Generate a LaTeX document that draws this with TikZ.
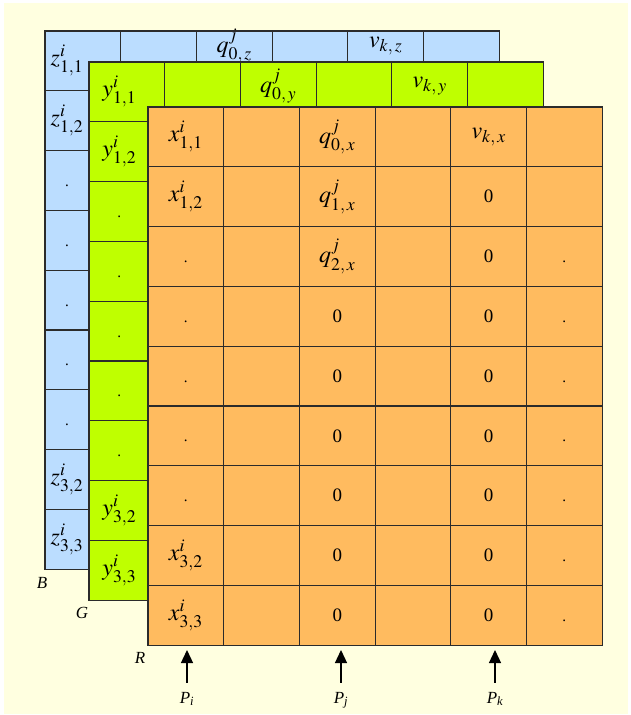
\documentclass[tikz,border=0pt]{standalone}
\usepackage{mathptmx}
\usepackage[no-math]{fontspec}
\setmainfont{Liberation Serif}
\usetikzlibrary{arrows.meta}
\definecolor{bgyellow}{HTML}{FFFFE0}
\definecolor{layblue}{HTML}{BBDDFF}
\definecolor{laygreen}{HTML}{BFFF00}
\definecolor{layorange}{HTML}{FFBB5F}
\definecolor{gridline}{HTML}{2B2B2B}

\tikzset{
  cellgrid/.style={draw=gridline, line width=1.2pt},
  lbl/.style={font=\fontsize{24}{28}\selectfont, inner sep=0pt},
  zero/.style={font=\fontsize{19}{22}\selectfont, inner sep=0pt},
  dotc/.style={font=\fontsize{15}{18}\selectfont, inner sep=0pt, anchor=base, yshift=-6pt},
  tag/.style={font=\fontsize{17}{20}\selectfont\itshape, inner sep=0pt},
  ptr/.style={-{Triangle[length=13pt,width=12pt]}, line width=1.3pt, black},
  cellunits/.style={x=75.7pt, y=-59.8pt}
}

% one colour plane: 6 columns x 9 rows
\newcommand{\layergrid}[1]{%
  \draw[cellgrid, fill=#1] (0,0) rectangle (6,9);
  \foreach \i in {1,...,5} \draw[cellgrid] (\i,0) -- (\i,9);
  \foreach \j in {1,...,8} \draw[cellgrid] (0,\j) -- (6,\j);
}

\begin{document}
\begin{tikzpicture}[x=1pt, y=-1pt]
  \useasboundingbox (0,0) rectangle (630,715);
  \fill[bgyellow] (4,3) rectangle (628,714);

  % B plane
  \begin{scope}[shift={(45pt,-31pt)}, cellunits]
    \layergrid{layblue}
    \node[lbl] (z11) at (0.29,0.5) {$z^i_{1,1}$};
    \node[lbl] (z12) at (0.29,1.5) {$z^i_{1,2}$};
    \foreach \r in {3,...,7}
      \node[dotc] (zdot\r) at (0.29,\r-0.5) {.};
    \node[lbl] (z32) at (0.29,7.5) {$z^i_{3,2}$};
    \node[lbl] (z33) at (0.29,8.5) {$z^i_{3,3}$};
    \node[lbl] (q0z) at (2.5,0.25) {$q^j_{0,\,z}$};
    \node[lbl] (vkz) at (4.5,0.25) {$v_{k,\,z}$};
  \end{scope}

  % G plane
  \begin{scope}[shift={(89pt,-62pt)}, cellunits]
    \layergrid{laygreen}
    \node[lbl] (y11) at (0.4,0.5) {$y^i_{1,1}$};
    \node[lbl] (y12) at (0.4,1.5) {$y^i_{1,2}$};
    \foreach \r in {3,...,7}
      \node[dotc] (ydot\r) at (0.4,\r-0.5) {.};
    \node[lbl] (y32) at (0.4,7.5) {$y^i_{3,2}$};
    \node[lbl] (y33) at (0.4,8.5) {$y^i_{3,3}$};
    \node[lbl] (q0y) at (2.5,0.4) {$q^j_{0,\,y}$};
    \node[lbl] (vky) at (4.5,0.4) {$v_{k,\,y}$};
  \end{scope}

  % R plane
  \begin{scope}[shift={(148pt,-107pt)}, cellunits]
    \layergrid{layorange}
    \node[lbl] (x11) at (0.5,0.5) {$x^i_{1,1}$};
    \node[lbl] (x12) at (0.5,1.5) {$x^i_{1,2}$};
    \foreach \r in {3,...,7}
      \node[dotc] (xdot\r) at (0.5,\r-0.5) {.};
    \node[lbl] (x32) at (0.5,7.5) {$x^i_{3,2}$};
    \node[lbl] (x33) at (0.5,8.5) {$x^i_{3,3}$};
    \node[lbl] (q0x) at (2.5,0.5) {$q^j_{0,\,x}$};
    \node[lbl] (q1x) at (2.5,1.5) {$q^j_{1,\,x}$};
    \node[lbl] (q2x) at (2.5,2.5) {$q^j_{2,\,x}$};
    \foreach \r in {4,...,9}
      \node[zero] (qzero\r) at (2.5,\r-0.5) {0};
    \node[lbl] (vkx) at (4.5,0.5) {$v_{k,\,x}$};
    \foreach \r in {2,...,9}
      \node[zero] (vzero\r) at (4.5,\r-0.5) {0};
    \foreach \r in {3,...,9}
      \node[dotc] (edot\r) at (5.5,\r-0.5) {.};
  \end{scope}

  % plane tags
  \node[tag] (tagB) at (42,583) {B};
  \node[tag] (tagG) at (82,613) {G};
  \node[tag] (tagR) at (140,658) {R};

  % pointers
  \coordinate (tipI) at (187,650);
  \coordinate (tipJ) at (341,650);
  \coordinate (tipK) at (495,650);
  \node[tag, anchor=base] (pI) at (187,703) {P\textsubscript{i}};
  \node[tag, anchor=base] (pJ) at (341,703) {P\textsubscript{j}};
  \node[tag, anchor=base] (pK) at (495,703) {P\textsubscript{k}};
  \draw[ptr, shorten <=9pt] (pI.north) -- (tipI);
  \draw[ptr, shorten <=9pt] (pJ.north) -- (tipJ);
  \draw[ptr, shorten <=9pt] (pK.north) -- (tipK);
\end{tikzpicture}
\end{document}
